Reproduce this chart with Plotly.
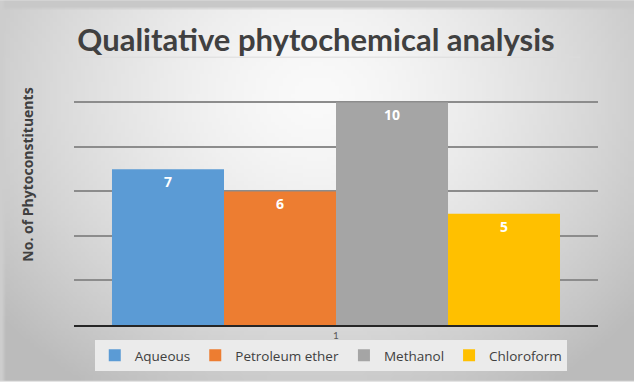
import zlib, struct, base64
import numpy as np
import plotly.graph_objects as go

# ---- data ----
series_names = ["Aqueous", "Petroleum ether", "Methanol", "Chloroform"]
series_values = [7, 6, 10, 5]
category = ["1"]
colors = ["#5B9BD5", "#ED7D31", "#A5A5A5", "#FFC000"]

W, H = 634, 382
YMAX = 10.2
L, R, B = 74, 36, 56
PH = round(224 * YMAX / 10)
T = H - B - PH
PW = W - L - R

# ---- gradient background as PNG ----
def make_png(arr):
    h, w = arr.shape
    raw = b"".join(b"\x00" + arr[i].astype(np.uint8).tobytes() for i in range(h))
    def chunk(tag, data):
        c = struct.pack(">I", len(data)) + tag + data
        return c + struct.pack(">I", zlib.crc32(tag + data) & 0xffffffff)
    png = b"\x89PNG\r\n\x1a\n"
    png += chunk(b"IHDR", struct.pack(">IIBBBBB", w, h, 8, 0, 0, 0, 0))
    png += chunk(b"IDAT", zlib.compress(raw, 9))
    png += chunk(b"IEND", b"")
    return "data:image/png;base64," + base64.b64encode(png).decode()

gw, gh = 160, 96
yy, xx = np.mgrid[0:gh, 0:gw]
dx = (xx / (gw - 1) - 0.5) * 2
dy = (yy / (gh - 1) - 0.25) * 1.4
d = np.sqrt(dx ** 2 + dy ** 2)
img = 250 - 42 * np.clip(d, 0, 1.3) ** 1.5
img[:2, :] = 200
img[:, :1] = 205
bg_src = make_png(np.clip(img, 0, 255))

fig = go.Figure()
for name, val, col in zip(series_names, series_values, colors):
    fig.add_trace(go.Bar(
        name=name, x=category, y=[val], marker=dict(color=col, line=dict(width=0)),
        text=[str(val)], textposition="inside", insidetextanchor="end",
        textfont=dict(color="white", size=14, family="Open Sans", weight="bold"),
    ))

fig.update_layout(
    width=W, height=H,
    margin=dict(l=L, r=R, t=T, b=B),
    paper_bgcolor="#e4e4e4",
    plot_bgcolor="rgba(0,0,0,0)",
    barmode="group", bargap=0.145, bargroupgap=0,
    font=dict(family="Lato", color="#404040"),
    title=dict(text="<b>Qualitative phytochemical analysis</b>",
               font=dict(size=31, family="Lato", color="#404040"),
               x=316 / W, xanchor="center", y=1 - 40 / H, yanchor="middle"),
    showlegend=True,
    legend=dict(orientation="h", x=0.49, xanchor="center", y=-14 / PH, yanchor="top",
                bgcolor="#ebebeb", font=dict(size=13.5, family="Open Sans", color="#404040"),
                itemwidth=30, traceorder="normal"),
    xaxis=dict(showgrid=False, showline=True, linecolor="#262626", linewidth=2,
               ticks="", tickfont=dict(size=10, color="#595959"), ticklabelstandoff=0),
    yaxis=dict(range=[0, YMAX], showticklabels=False, showgrid=True,
               gridcolor="#8c8c8c", gridwidth=1.5, dtick=2, tick0=0,
               zeroline=False, showline=False, ticks=""),
    images=[dict(source=bg_src, xref="paper", yref="paper",
                 x=-L / PW, y=1 + T / PH, sizex=W / PW, sizey=H / PH,
                 xanchor="left", yanchor="top", sizing="stretch", layer="below")],
    annotations=[dict(text="<b>No. of Phytoconstituents</b>", textangle=-90,
                      xref="paper", yref="paper", x=(28 - L) / PW, y=(326 - 175) / PH,
                      xanchor="center", yanchor="middle", showarrow=False,
                      font=dict(size=14, family="Open Sans", color="#404040"))],
    shapes=[dict(type="line", xref="paper", yref="paper",
                 x0=(78 - L) / PW, x1=(580 - L) / PW, y0=1 + (T - 57) / PH, y1=1 + (T - 57) / PH,
                 line=dict(color="#dcdcdc", width=1))],
)

fig.write_html("out.html", config={"displayModeBar": False},
               post_script="document.body.style.margin='0';")
